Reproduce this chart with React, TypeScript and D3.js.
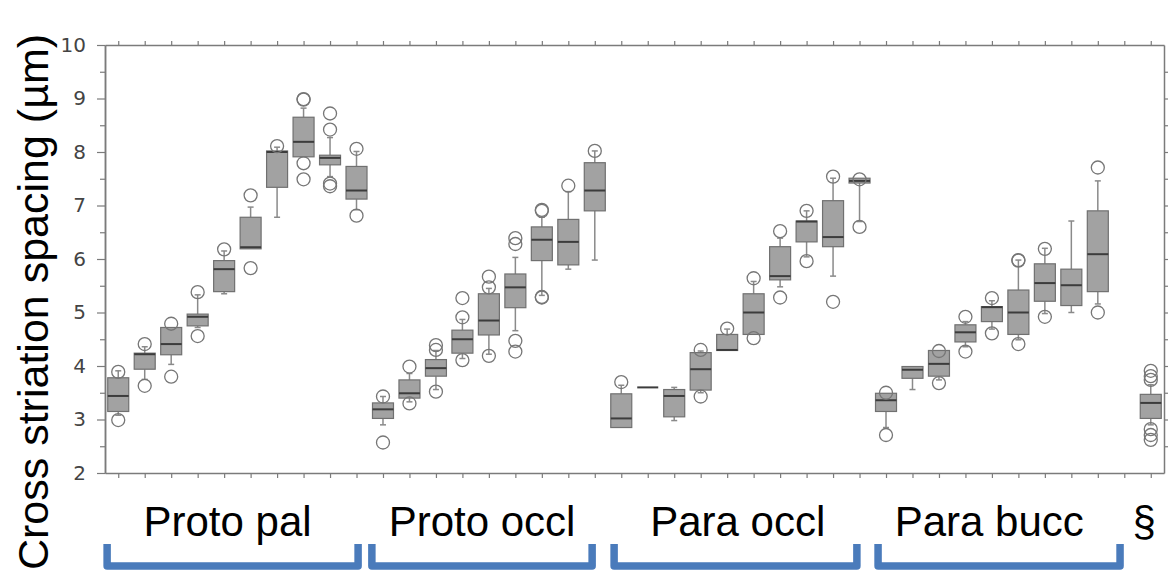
import React, { useEffect, useRef } from "react";
import * as d3 from "d3";

// slot index of each box along the x axis (slot 38 is left empty)
const boxSlots = [
  0, 1, 2, 3, 4, 5, 6, 7, 8, 9,
  10, 11, 12, 13, 14, 15, 16, 17, 18,
  19, 20, 21, 22, 23, 24, 25, 26, 27, 28,
  29, 30, 31, 32, 33, 34, 35, 36, 37,
  39,
];

const q1 = [
  3.15, 3.94, 4.21, 4.75, 5.39, 6.19, 7.34, 7.91, 7.76, 7.12,
  3.02, 3.4, 3.81, 4.24, 4.58, 5.09, 5.97, 5.89, 6.9,
  2.85, 3.6, 3.05, 3.55, 4.29, 4.59, 5.61, 6.32, 6.23, 7.42,
  3.15, 3.77, 3.81, 4.45, 4.83, 4.59, 5.21, 5.13, 5.39,
  3.02,
];

const medians = [
  3.44, 4.22, 4.41, 4.92, 5.81, 6.22, 8.0, 8.19, 7.89, 7.28,
  3.19, 3.49, 3.96, 4.5, 4.85, 5.47, 6.36, 6.32, 7.28,
  3.02, 3.6, 3.44, 3.94, 4.3, 5.0, 5.68, 6.7, 6.41, 7.46,
  3.36, 3.93, 4.04, 4.63, 5.1, 5.0, 5.55, 5.51, 6.09,
  3.31,
];

const q3 = [
  3.78, 4.24, 4.72, 4.97, 5.97, 6.78, 8.02, 8.65, 7.94, 7.73,
  3.31, 3.74, 4.12, 4.67, 5.35, 5.72, 6.6, 6.74, 7.8,
  3.48, 3.6, 3.56, 4.25, 4.59, 5.35, 6.23, 6.71, 7.09, 7.51,
  3.49, 3.99, 4.29, 4.77, 5.11, 5.42, 5.91, 5.81, 6.9,
  3.47,
];

const whiskerLo = [
  3.08, 3.75, 4.03, 4.72, 5.35, 6.19, 6.78, 7.91, 7.54, 6.92,
  2.9, 3.33, 3.56, 4.14, 4.22, 4.66, 5.32, 5.81, 5.98,
  2.85, 3.6, 2.98, 3.5, 4.29, 4.59, 5.48, 6.04, 5.68, 6.7,
  2.85, 3.56, 3.74, 4.36, 4.69, 4.49, 4.98, 5.0, 5.16,
  2.9,
];

const whiskerHi = [
  3.91, 4.36, 4.72, 5.33, 6.15, 6.97, 8.09, 8.82, 8.27, 8.01,
  3.43, 3.86, 4.29, 4.87, 5.45, 6.03, 6.78, 7.26, 8.02,
  3.64, 3.6, 3.6, 4.28, 4.69, 5.58, 6.39, 6.9, 7.51, 7.51,
  3.49, 3.99, 4.29, 4.83, 5.22, 5.98, 6.2, 6.71, 7.46,
  3.65,
];

const outliers: number[][] = [
  [3.89, 2.99], [4.41, 3.63], [4.79, 3.8], [5.38, 4.56], [6.18],
  [7.19, 5.83], [8.11], [8.98, 8.99, 7.79, 7.49], [8.72, 8.42, 7.41, 7.36], [8.06, 6.81],
  [3.43, 2.57], [3.99, 3.3], [4.39, 4.3, 3.52], [5.27, 4.91, 4.11], [5.67, 5.47, 4.19],
  [6.39, 6.28, 4.47, 4.27], [6.92, 6.9, 5.28, 5.29], [7.37], [8.02],
  [3.7], [], [], [4.3, 3.43], [4.7], [5.64, 4.52], [6.52, 5.28], [6.9, 5.96], [7.54, 5.2], [7.49, 6.6],
  [3.5, 2.71], [], [4.28, 3.68], [4.92, 4.27], [5.27, 4.61], [5.97, 5.98, 4.41], [6.19, 4.92], [], [7.71, 5.0],
  [3.91, 3.81, 3.74, 2.82, 2.71, 2.62],
];

const groupNames = ["Proto pal", "Proto occl", "Para occl", "Para bucc", "§"];
// label centres and bracket ends, in slot units
const groupLabelAt = [4.13, 13.74, 23.4, 32.9, 38.75];
const bracketStart = [-0.42, 9.58, 18.73, 28.7];
const bracketEnd = [9.06, 17.9, 27.9, 37.84];

const yTicks = [2, 3, 4, 5, 6, 7, 8, 9, 10];
const yMinorTicks = [2.5, 3.5, 4.5, 5.5, 6.5, 7.5, 8.5, 9.5];

const axisColor = "#7b7b7b";

export default function App() {
  const svgRef = useRef<SVGSVGElement>(null);

  useEffect(() => {
    if (!svgRef.current) return;
    const svg = d3.select(svgRef.current);
    svg.selectAll("*").remove();

    const left = 105;
    const right = 1164;
    const top = 45;
    const bottom = 473;

    const x = d3.scaleLinear().domain([-0.5, 39.5]).range([left, right]);
    const y = d3.scaleLinear().domain([2, 10]).range([bottom, top]);
    const slotTicks = d3.range(40);
    const boxW = 21;

    const styleAxis = (g: d3.Selection<SVGGElement, unknown, null, undefined>) => {
      g.selectAll(".domain").attr("stroke", axisColor).attr("stroke-width", 1.5);
      g.selectAll(".tick line").attr("stroke", axisColor).attr("stroke-width", 1.2);
    };

    // axes frame
    svg.append("g")
      .attr("transform", `translate(0,${top})`)
      .call(d3.axisTop(x).tickValues(slotTicks).tickSize(4).tickSizeOuter(0).tickFormat(() => ""))
      .call(styleAxis);
    svg.append("g")
      .attr("transform", `translate(0,${bottom})`)
      .call(d3.axisBottom(x).tickValues(slotTicks).tickSize(5).tickSizeOuter(0).tickFormat(() => ""))
      .call(styleAxis);
    svg.append("g")
      .attr("transform", `translate(${right},0)`)
      .call(d3.axisRight(y).tickValues([...yMinorTicks, 3, 4, 5, 6, 7, 8, 9]).tickSize(4).tickSizeOuter(0).tickFormat(() => ""))
      .call(styleAxis);
    svg.append("g")
      .attr("transform", `translate(${left},0)`)
      .call(d3.axisLeft(y).tickValues(yMinorTicks).tickSize(5).tickSizeOuter(0).tickFormat(() => ""))
      .call(styleAxis);
    const yAxis = svg.append("g")
      .attr("transform", `translate(${left},0)`)
      .call(d3.axisLeft(y).tickValues(yTicks).tickSize(8).tickSizeOuter(0).tickPadding(11).tickFormat(d3.format("d")))
      .call(styleAxis);
    yAxis.selectAll(".tick text")
      .attr("fill", "#444")
      .style("font-family", "'DejaVu Sans', sans-serif")
      .style("font-size", "20px");

    // boxes
    const boxes = svg.append("g");
    boxSlots.forEach((slot, i) => {
      const cx = x(slot);
      const b = boxes.append("g");
      const wStroke = "#8a8a8a";
      if (whiskerHi[i] > q3[i]) {
        b.append("line").attr("x1", cx).attr("x2", cx)
          .attr("y1", y(q3[i])).attr("y2", y(whiskerHi[i]))
          .attr("stroke", wStroke).attr("stroke-width", 1.5);
        b.append("line").attr("x1", cx - 3).attr("x2", cx + 3)
          .attr("y1", y(whiskerHi[i])).attr("y2", y(whiskerHi[i]))
          .attr("stroke", wStroke).attr("stroke-width", 1.5);
      }
      if (whiskerLo[i] < q1[i]) {
        b.append("line").attr("x1", cx).attr("x2", cx)
          .attr("y1", y(q1[i])).attr("y2", y(whiskerLo[i]))
          .attr("stroke", wStroke).attr("stroke-width", 1.5);
        b.append("line").attr("x1", cx - 3).attr("x2", cx + 3)
          .attr("y1", y(whiskerLo[i])).attr("y2", y(whiskerLo[i]))
          .attr("stroke", wStroke).attr("stroke-width", 1.5);
      }
      b.append("rect")
        .attr("x", cx - boxW / 2)
        .attr("y", y(q3[i]))
        .attr("width", boxW)
        .attr("height", y(q1[i]) - y(q3[i]))
        .attr("fill", "#a2a2a2")
        .attr("stroke", "#707070")
        .attr("stroke-width", 1.2);
      b.append("line")
        .attr("x1", cx - boxW / 2).attr("x2", cx + boxW / 2)
        .attr("y1", y(medians[i])).attr("y2", y(medians[i]))
        .attr("stroke", "#3c3c3c").attr("stroke-width", 2);
      outliers[i].forEach(v => {
        b.append("circle")
          .attr("cx", cx).attr("cy", y(v)).attr("r", 6.5)
          .attr("fill", "none").attr("stroke", "#767676").attr("stroke-width", 1.3);
      });
    });

    // y title
    svg.append("text")
      .attr("transform", `translate(48,302) rotate(-90)`)
      .attr("text-anchor", "middle")
      .style("font-family", "'Liberation Sans', Arial, sans-serif")
      .style("font-size", "43px")
      .attr("fill", "#000")
      .text("Cross striation spacing (µm)");

    // group labels
    svg.append("g").selectAll("text")
      .data(groupNames)
      .join("text")
      .attr("x", (_, i) => x(groupLabelAt[i]))
      .attr("y", 536)
      .attr("text-anchor", "middle")
      .style("font-family", "'Liberation Sans', Arial, sans-serif")
      .style("font-size", "42px")
      .attr("fill", "#000")
      .text(d => d);

    // brackets
    svg.append("g").selectAll("path")
      .data(bracketStart)
      .join("path")
      .attr("d", (d, i) => `M${x(d)},544 V566 H${x(bracketEnd[i])} V544`)
      .attr("fill", "none")
      .attr("stroke", "#4a7bbb")
      .attr("stroke-width", 7.5)
      .attr("stroke-linejoin", "round");
  }, []);

  return (
    <svg
      ref={svgRef}
      width={1173}
      height={572}
      style={{ position: "absolute", left: 0, top: 0, background: "#fff" }}
    />
  );
}
